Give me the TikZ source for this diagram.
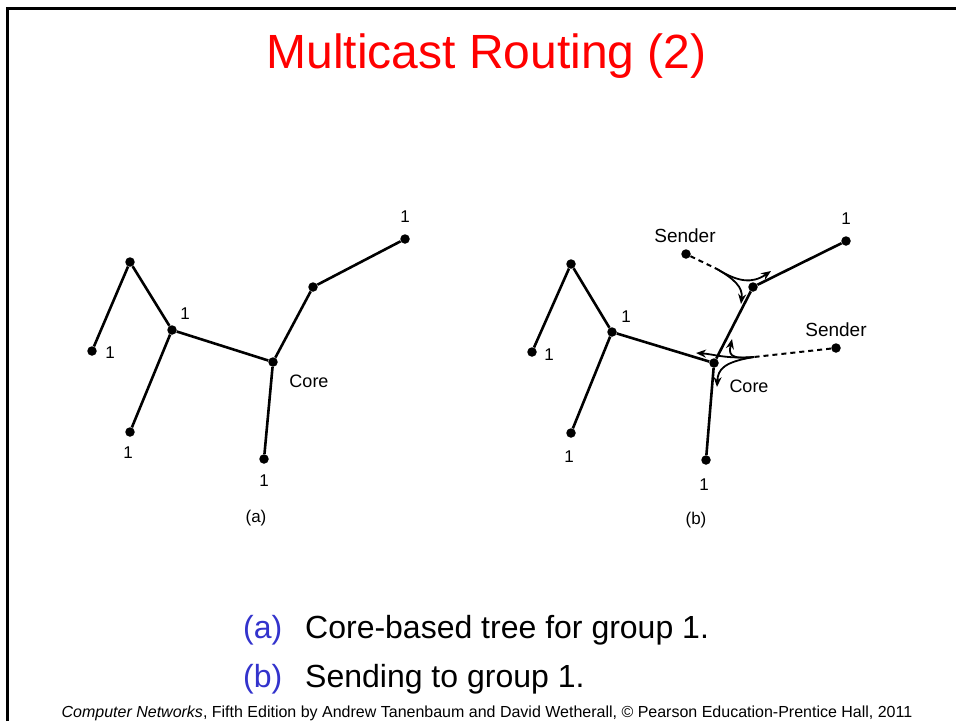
\documentclass[tikz,border=0pt]{standalone}
\usepackage{fontspec}
\setmainfont{Liberation Sans}
\usetikzlibrary{arrows.meta}
\definecolor{titlered}{RGB}{255,0,0}
\definecolor{capblue}{RGB}{51,51,204}

\begin{document}
\begin{tikzpicture}[x=1pt,y=-1pt,
  dot/.style={circle,fill=black,inner sep=0pt,minimum size=9.5pt},
  edge/.style={line width=2.6pt},
  lbl/.style={font=\fontsize{17}{17}\selectfont,inner sep=0pt},
  corelbl/.style={font=\fontsize{18}{18}\selectfont,inner sep=0pt},
  sendlbl/.style={font=\fontsize{19}{19}\selectfont,inner sep=0pt},
  sub/.style={font=\fontsize{17}{17}\selectfont,inner sep=0pt},
  dashflow/.style={line width=2pt,dash pattern=on 5pt off 4pt},
  flow/.style={line width=1.8pt,-{Stealth[length=10pt,width=8pt]}},
  frame/.style={line width=3pt},
]
\useasboundingbox (0,0) rectangle (956,721);

% slide frame
\coordinate (fb) at (7.5,721);
\coordinate (fc) at (7.5,8.5);
\coordinate (fr) at (956,8.5);
\draw[frame] (fb) -- (fc) -- (fr);

% title
\node[anchor=base,text=titlered,inner sep=0pt,font=\fontsize{48}{48}\selectfont] (title) at (486.5,68) {Multicast Routing (2)};

% ---------- (a) core-based tree ----------
\node[dot] (a1) at (130,262) {};
\node[dot] (a2) at (92,351) {};
\node[dot] (a3) at (172,330) {};
\node[dot] (a4) at (130,432) {};
\node[dot] (ac) at (273,362) {};
\node[dot] (a5) at (313,287) {};
\node[dot] (a6) at (405,239) {};
\node[dot] (a7) at (264,459) {};

\draw[edge] (a2) -- (a1) -- (a3) -- (ac) -- (a5) -- (a6);
\draw[edge] (a3) -- (a4);
\draw[edge] (ac) -- (a7);

\node[lbl] (la2) at (110,353) {1};
\node[lbl] (la3) at (185,314) {1};
\node[lbl] (la4) at (128,453) {1};
\node[lbl] (la6) at (405,217) {1};
\node[lbl] (la7) at (264,481) {1};
\node[corelbl] (lac) at (309,381) {Core};
\node[sub] (suba) at (256,518) {(a)};

% ---------- (b) sending to the group ----------
\node[dot] (b1) at (571,264) {};
\node[dot] (b2) at (532,352) {};
\node[dot] (b3) at (612,332) {};
\node[dot] (b4) at (571,433) {};
\node[dot] (bc) at (714,363) {};
\node[dot] (b5) at (753,287) {};
\node[dot] (b6) at (846,241) {};
\node[dot] (b7) at (706,460) {};

\draw[edge] (b2) -- (b1) -- (b3) -- (bc) -- (b5) -- (b6);
\draw[edge] (b3) -- (b4);
\draw[edge] (bc) -- (b7);

\node[lbl] (lb2) at (549,355) {1};
\node[lbl] (lb3) at (626,317) {1};
\node[lbl] (lb4) at (569,457) {1};
\node[lbl] (lb6) at (846,219) {1};
\node[lbl] (lb7) at (704,485) {1};
\node[corelbl] (lbc) at (749,386) {Core};
\node[sub] (subb) at (696,520) {(b)};

% senders
\node[dot] (s1) at (686,254) {};
\node[dot] (s2) at (836,348) {};
\node[sendlbl] (ls1) at (685,236) {Sender};
\node[sendlbl] (ls2) at (836,330) {Sender};

% packet from the upper sender, split at the first tree node
\coordinate (j1) at (717,269);
\draw[dashflow] (s1) -- (j1);
\draw[flow] (j1) .. controls (738,282) and (752,284) .. (771,271);
\draw[flow] (j1) .. controls (734,279) and (743,287) .. (741,304);

% packet from the right sender, tunnelled to the core and fanned out
\coordinate (j2) at (754,357);
\draw[dashflow] (s2) -- (j2);
\draw[flow] (j2) .. controls (728,360) and (729,353) .. (732,339);
\draw[flow] (j2) .. controls (725,359) and (713,354) .. (696,353);
\draw[flow] (j2) .. controls (724,362) and (718,369) .. (717,387);

% caption
\node[anchor=base west,inner sep=0pt,text=capblue,font=\fontsize{32}{32}\selectfont] (capa) at (243,638) {(a)};
\node[anchor=base west,inner sep=0pt,font=\fontsize{32}{32}\selectfont] (capta) at (305,638) {Core-based tree for group 1.};
\node[anchor=base west,inner sep=0pt,text=capblue,font=\fontsize{32}{32}\selectfont] (capb) at (243,687) {(b)};
\node[anchor=base west,inner sep=0pt,font=\fontsize{32}{32}\selectfont] (captb) at (305,687) {Sending to group 1.};

% footer
\node[anchor=base,inner sep=0pt,font=\fontsize{16}{16}\selectfont] (foot) at (487,717.5) {\textit{Computer Networks}, Fifth Edition by Andrew Tanenbaum and David Wetherall, © Pearson Education-Prentice Hall, 2011};
\end{tikzpicture}
\end{document}
